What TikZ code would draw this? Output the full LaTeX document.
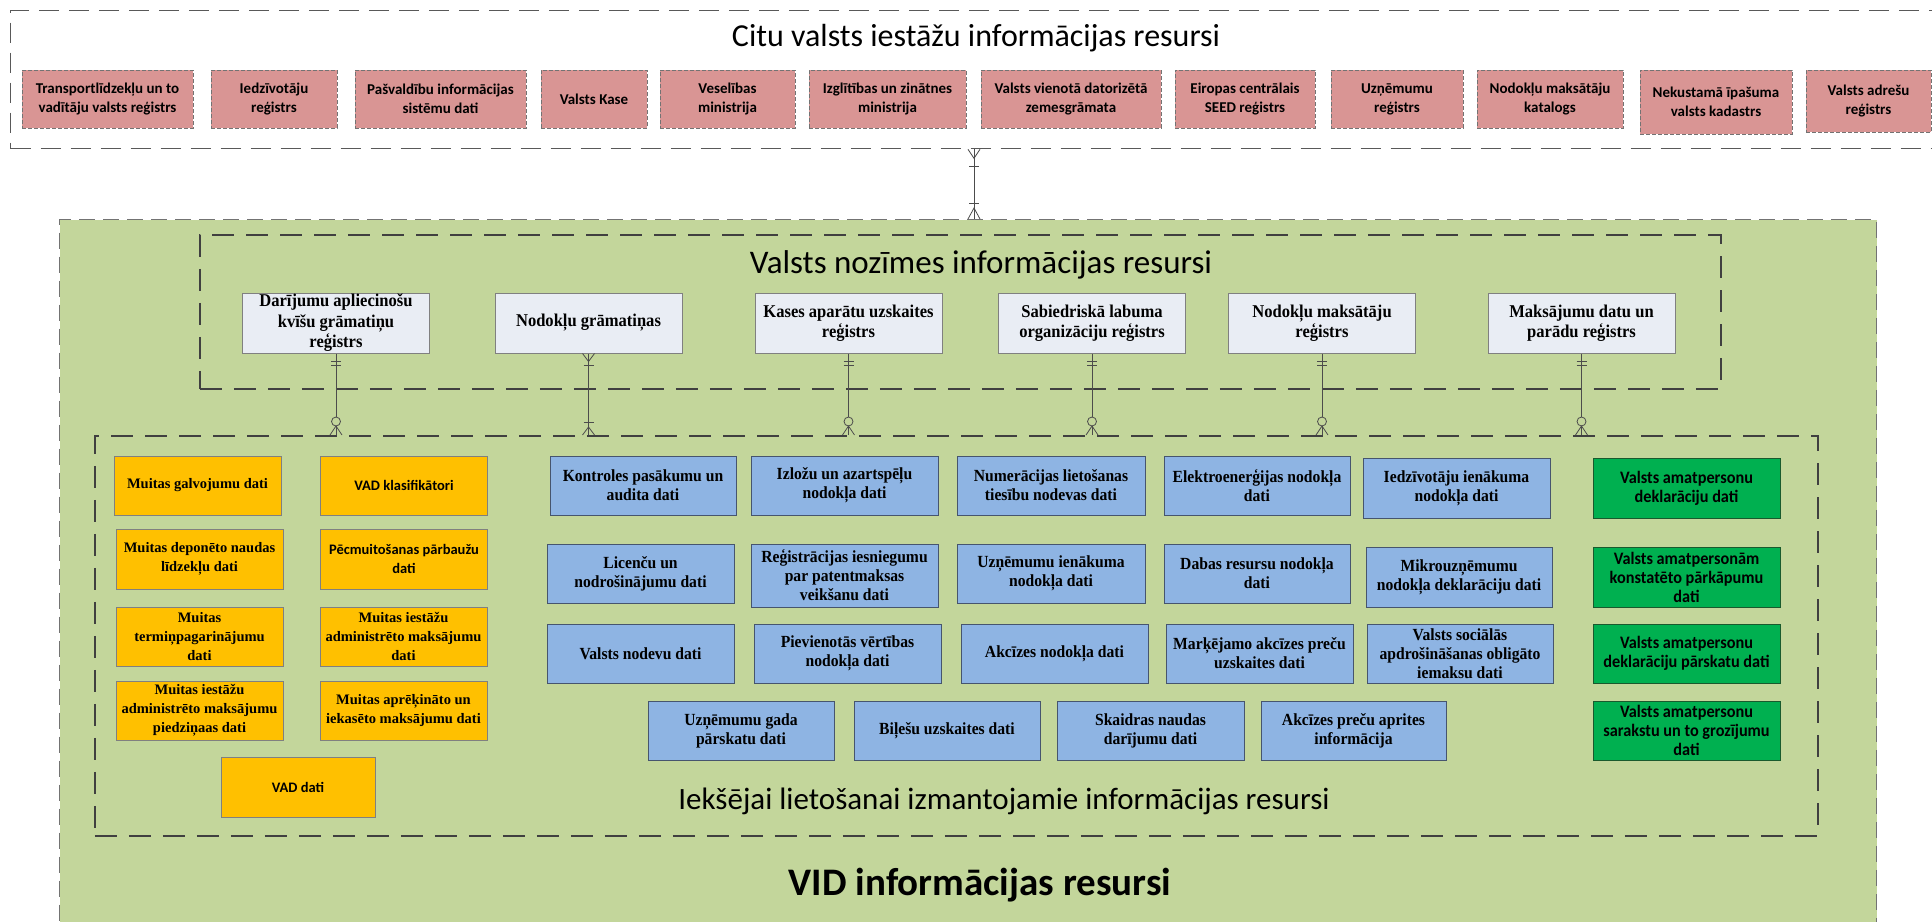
\documentclass[tikz,border=0pt]{standalone}
\usepackage{fontspec}
\setmainfont{Carlito}
\newfontfamily\tnr{Liberation Serif}
\newfontfamily\tnrc[FakeStretch=0.92]{Liberation Serif}
\newfontfamily\carc[FakeStretch=0.93]{Carlito}
\usetikzlibrary{calc}
\definecolor{redf}{RGB}{217,149,148}
\definecolor{lightf}{RGB}{233,237,244}
\definecolor{bluef}{RGB}{142,180,227}
\definecolor{bluebd}{RGB}{70,85,110}
\definecolor{orangef}{RGB}{255,192,0}
\definecolor{greenf}{RGB}{0,176,80}
\definecolor{greenbd}{RGB}{25,90,45}
\definecolor{bgf}{RGB}{195,214,155}
\newcommand{\mkbar}[2]{\draw[conn] ($(#1)+(-5,#2)$) -- ($(#1)+(5,#2)$);}
\newcommand{\mktoes}[3]{\draw[conn] ($(#1)+(-6,#2)$) -- ($(#1)+(0,#3)$) -- ($(#1)+(6,#2)$);}
\newcommand{\mkring}[2]{\draw[conn, fill=bgf] ($(#1)+(0,#2)$) circle[radius=4.5pt];}
\tikzset{
 base/.style={rectangle, align=center, inner sep=1pt},
 redbox/.style={base, draw=black!55, fill=redf, dash pattern=on 4pt off 2pt, line width=1pt, font=\fontsize{15}{19}\selectfont\bfseries, minimum height=58},
 lightbox/.style={base, draw=black!50, fill=lightf, line width=1pt, font=\tnrc\fontsize{18}{20.5}\selectfont\bfseries, minimum width=187, minimum height=60},
 bluebox/.style={base, draw=bluebd, fill=bluef, line width=1pt, font=\tnrc\fontsize{17}{19}\selectfont\bfseries, minimum width=187, minimum height=59},
 orbox/.style={base, draw=black!50, fill=orangef, line width=1pt, minimum width=167, minimum height=59},
 orserif/.style={orbox, font=\tnr\fontsize{14.5}{19}\selectfont\bfseries},
 orsans/.style={orbox, font=\fontsize{14.5}{19}\selectfont\bfseries},
 grbox/.style={base, draw=greenbd, fill=greenf, line width=1pt, font=\carc\fontsize{17.5}{19}\selectfont\bfseries, minimum width=187, minimum height=60},
 bigdash/.style={rectangle, inner sep=0, anchor=north west},
 conn/.style={draw=black!70, line width=0.8pt},
}
\begin{document}
\begin{tikzpicture}[x=1pt,y=-1pt]
\useasboundingbox (0,0) rectangle (1932,921);
\clip (0,0) rectangle (1932,921);
% big containers
\node[bigdash, draw=black!65, line width=1.3pt, dash pattern=on 20pt off 10pt, minimum width=1935, minimum height=138] (citu) at (10,10) {};
\node[bigdash, draw=black!55, line width=1pt, dash pattern=on 16pt off 8pt, fill=bgf, minimum width=1817, minimum height=721] (vid) at (59,219) {};
\node[bigdash, draw=black!75, line width=1.8pt, dash pattern=on 22pt off 12pt, minimum width=1521, minimum height=154] (noz) at (199,234) {};
\node[bigdash, draw=black!75, line width=1.8pt, dash pattern=on 22pt off 12pt, minimum width=1723, minimum height=400] (int) at (94,435) {};
% titles
\node[font=\fontsize{32}{36}\selectfont] (t1) at (976,38) {Citu valsts iestāžu informācijas resursi};
\node[font=\fontsize{33}{37}\selectfont] (t2) at (981,265) {Valsts nozīmes informācijas resursi};
\node[font=\fontsize{31}{35}\selectfont] (t3) at (1004,801) {Iekšējai lietošanai izmantojamie informācijas resursi};
\node[font=\fontsize{39}{43}\selectfont\bfseries] (t4) at (980,885) {VID informācijas resursi};
% red boxes
\node[redbox, minimum width=171] (r1) at (107.5,99) {Transportlīdzekļu un to\\vadītāju valsts reģistrs};
\node[redbox, minimum width=126] (r2) at (274,99) {Iedzīvotāju\\reģistrs};
\node[redbox, minimum width=171] (r3) at (440.5,99) {Pašvaldību informācijas\\sistēmu dati};
\node[redbox, minimum width=106] (r4) at (594,99) {Valsts Kase};
\node[redbox, minimum width=135] (r5) at (727.5,99) {Veselības\\ministrija};
\node[redbox, minimum width=157] (r6) at (887.5,99) {Izglītības un zinātnes\\ministrija};
\node[redbox, minimum width=180] (r7) at (1071,99) {Valsts vienotā datorizētā\\zemesgrāmata};
\node[redbox, minimum width=140] (r8) at (1245,99) {Eiropas centrālais\\SEED reģistrs};
\node[redbox, minimum width=132] (r9) at (1397,99) {Uzņēmumu\\reģistrs};
\node[redbox, minimum width=146] (r10) at (1550,99) {Nodokļu maksātāju\\katalogs};
\node[redbox, minimum width=152, minimum height=64] (r11) at (1716,102) {Nekustamā īpašuma\\valsts kadastrs};
\node[redbox, minimum width=125, minimum height=62] (r12) at (1868.5,101) {Valsts adrešu\\reģistrs};
% light boxes
\node[lightbox] (l1) at (336,323) {Darījumu apliecinošu\\kvīšu grāmatiņu\\reģistrs};
\node[lightbox] (l2) at (588.5,323) {Nodokļu grāmatiņas};
\node[lightbox] (l3) at (848.5,323) {Kases aparātu uzskaites\\reģistrs};
\node[lightbox] (l4) at (1092,323) {Sabiedriskā labuma\\organizāciju reģistrs};
\node[lightbox] (l5) at (1322,323) {Nodokļu maksātāju\\reģistrs};
\node[lightbox] (l6) at (1581.5,323) {Maksājumu datu un\\parādu reģistrs};
% orange boxes
\node[orserif] (o1) at (197.5,485.5) {Muitas galvojumu dati};
\node[orsans] (o2) at (404,485.5) {VAD klasifikātori};
\node[orserif, minimum height=60] (o3) at (199.5,559) {Muitas deponēto naudas\\līdzekļu dati};
\node[orsans, minimum height=60] (o4) at (404,559) {Pēcmuitošanas pārbaužu\\dati};
\node[orserif] (o5) at (199.5,636.5) {Muitas\\termiņpagarinājumu\\dati};
\node[orserif] (o6) at (403.5,636.5) {Muitas iestāžu\\administrēto maksājumu\\dati};
\node[orserif] (o7) at (199.5,710.5) {Muitas iestāžu\\administrēto maksājumu\\piedziņaas dati};
\node[orserif] (o8) at (403.5,710.5) {Muitas aprēķināto un\\iekasēto maksājumu dati};
\node[orsans, minimum width=154, minimum height=60] (o9) at (298,787) {VAD dati};
% blue boxes
\node[bluebox, minimum width=186] (b1) at (643,485.5) {Kontroles pasākumu un\\audita dati};
\node[bluebox] (b2) at (844.5,485.5) {Izložu un azartspēļu\\nodokļa dati};
\node[bluebox, minimum width=188] (b3) at (1051,485.5) {Numerācijas lietošanas\\tiesību nodevas dati};
\node[bluebox, minimum width=186] (b4) at (1257,485.5) {Elektroenerģijas nodokļa\\dati};
\node[bluebox, minimum height=60] (b5) at (1456.5,488) {Iedzīvotāju ienākuma\\nodokļa dati};
\node[bluebox] (b6) at (640.5,573.5) {Licenču un\\nodrošinājumu dati};
\node[bluebox, minimum height=63] (b7) at (844.5,575.5) {Reģistrācijas iesniegumu\\par patentmaksas\\veikšanu dati};
\node[bluebox, minimum width=188] (b8) at (1051,573.5) {Uzņēmumu ienākuma\\nodokļa dati};
\node[bluebox, minimum width=186] (b9) at (1257,573.5) {Dabas resursu nodokļa\\dati};
\node[bluebox, minimum width=186, minimum height=60] (b10) at (1459,577) {Mikrouzņēmumu\\nodokļa deklarāciju dati};
\node[bluebox] (b11) at (640.5,653.5) {Valsts nodevu dati};
\node[bluebox] (b12) at (847.5,653.5) {Pievienotās vērtības\\nodokļa dati};
\node[bluebox] (b13) at (1054.5,653.5) {Akcīzes nodokļa dati};
\node[bluebox] (b14) at (1259.5,653.5) {Marķējamo akcīzes preču\\uzskaites dati};
\node[bluebox, minimum width=186] (b15) at (1460,653.5) {Valsts sociālās\\apdrošināšanas obligāto\\iemaksu dati};
\node[bluebox, minimum width=186] (b16) at (741,730.5) {Uzņēmumu gada\\pārskatu dati};
\node[bluebox, minimum width=186] (b17) at (947,730.5) {Biļešu uzskaites dati};
\node[bluebox] (b18) at (1150.5,730.5) {Skaidras naudas\\darījumu dati};
\node[bluebox, minimum width=185] (b19) at (1353.5,730.5) {Akcīzes preču aprites\\informācija};
% green boxes
\node[grbox] (g1) at (1686.5,488) {Valsts amatpersonu\\deklarāciju dati};
\node[grbox] (g2) at (1686.5,577) {Valsts amatpersonām\\konstatēto pārkāpumu\\dati};
\node[grbox, minimum height=59] (g3) at (1686.5,653.5) {Valsts amatpersonu\\deklarāciju pārskatu dati};
\node[grbox, minimum height=59] (g4) at (1686.5,730.5) {Valsts amatpersonu\\sarakstu un to grozījumu\\dati};
% connector: other institutions -> VID
\coordinate (cx) at (974,0);
\coordinate (ct) at (cx |- citu.south);
\coordinate (cb) at (cx |- vid.north);
\draw[conn] (ct) -- (cb);
\mktoes{ct}{0}{9}
\mkbar{ct}{17}
\mkbar{cb}{-16}
\mktoes{cb}{0}{-11}
% connectors: state registers -> internal resources
\foreach \n in {1,...,6}{\coordinate (e\n) at (l\n.south |- int.north);}
\draw[conn] (l1.south) -- (e1);
\draw[conn] (l2.south) -- (e2);
\draw[conn] (l3.south) -- (e3);
\draw[conn] (l4.south) -- (e4);
\draw[conn] (l5.south) -- (e5);
\draw[conn] (l6.south) -- (e6);
% exactly one -> zero or many
\foreach \n in {1,3,4,5,6}{
  \mkbar{l\n.south}{8}
  \mkbar{l\n.south}{12}
  \mkring{e\n}{-13.5}
  \mktoes{e\n}{0}{-9}
}
% one or many -> one or many
\mktoes{l2.south}{0}{8}
\mkbar{l2.south}{12}
\mkbar{e2}{-13}
\mktoes{e2}{0}{-8}
\end{tikzpicture}
\end{document}
